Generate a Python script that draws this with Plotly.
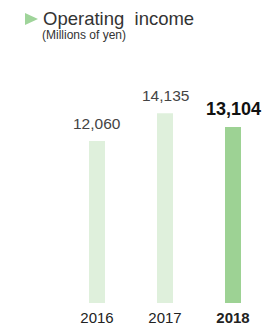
import plotly.graph_objects as go

years = ["2016", "2017", "2018"]
values = [12060, 14135, 13104]
value_labels = ["12,060", "14,135", "13,104"]
tick_labels = ["2016", "2017", "<b>2018</b>"]
bar_colors = ["#dff0dc", "#dff0dc", "#9dd294"]

FONT = "Liberation Sans, Arial, Helvetica, sans-serif"
W, H = 266, 325
B = 22
PH = H - B

fig = go.Figure()
fig.add_trace(go.Bar(x=[0, 1, 2], y=values, marker=dict(color=bar_colors, line=dict(width=0)),
                     width=16 / 68, hoverinfo="skip"))

for i, (v, lab) in enumerate(zip(values, value_labels)):
    last = i == len(values) - 1
    fig.add_annotation(x=i, y=v, xref="x", yref="y", text=f"<b>{lab}</b>" if last else lab,
                       showarrow=False, yanchor="bottom", yshift=7 if not last else 6,
                       font=dict(family=FONT, size=15.5 if not last else 18,
                                 color="#111111" if last else "#444444"))

fig.add_annotation(x=41 / W, y=(PH - 19) / PH, xref="paper", yref="paper",
                   text="Operating\u00a0\u00a0income", showarrow=False, xanchor="left", yanchor="middle",
                   font=dict(family=FONT, size=18.5, color="#333333"))
fig.add_annotation(x=40 / W, y=(PH - 35) / PH, xref="paper", yref="paper",
                   text="(Millions of yen)", showarrow=False, xanchor="left", yanchor="middle",
                   font=dict(family=FONT, size=12, color="#333333"))
fig.add_shape(type="path", xref="paper", yref="paper",
              path=f"M {25/W} {(PH-13)/PH} L {38/W} {(PH-19)/PH} L {25/W} {(PH-25)/PH} Z",
              fillcolor="#9fd49a", line=dict(width=0))

scale = 162 / 12060
fig.update_layout(
    width=W, height=H, margin=dict(l=0, r=0, t=0, b=B),
    paper_bgcolor="white", plot_bgcolor="white", showlegend=False,
    xaxis=dict(range=[-97 / 68, (W - 97) / 68], tickvals=[0, 1, 2], ticktext=tick_labels,
               showgrid=False, zeroline=False, showline=False, ticks="", fixedrange=True,
               ticklabelstandoff=4,
               tickfont=dict(family=FONT, size=15, color="#222222")),
    yaxis=dict(range=[0, PH / scale], visible=False, fixedrange=True),
)
fig.write_html("out.html", config={"displayModeBar": False},
               post_script="document.body.style.margin='0';document.body.style.overflow='hidden';")
